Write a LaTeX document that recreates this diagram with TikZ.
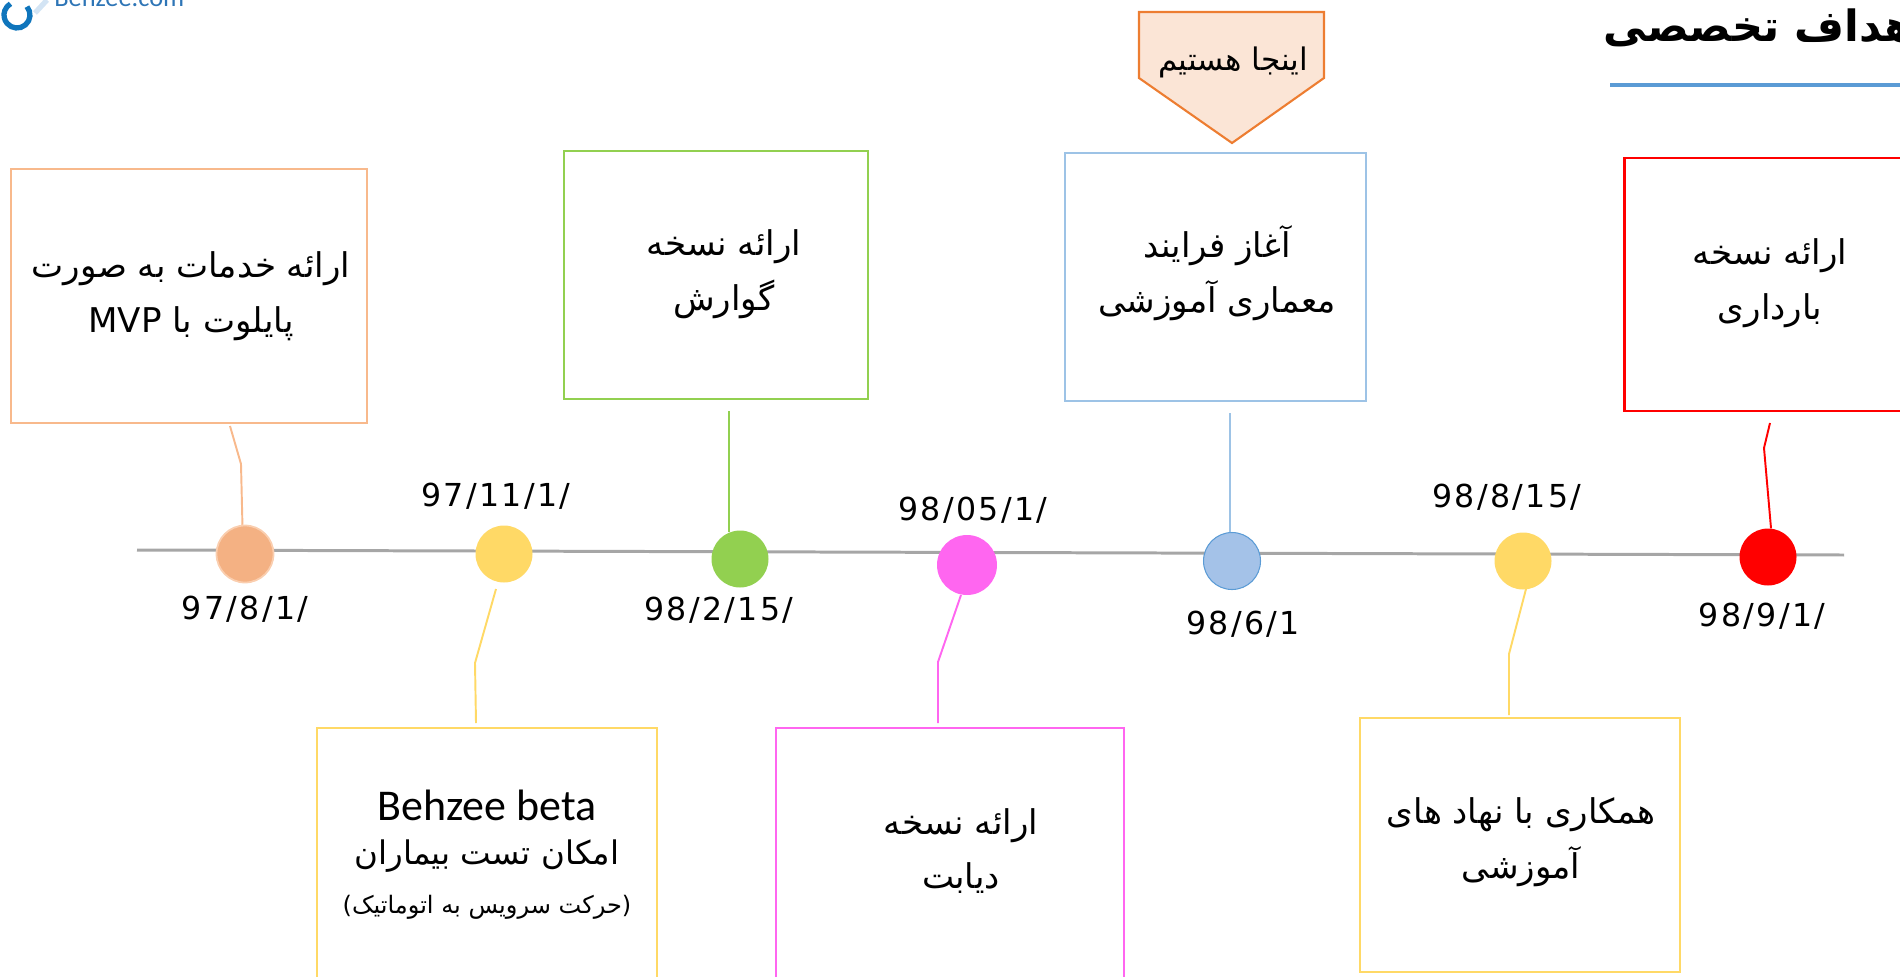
\documentclass[tikz,border=0pt]{standalone}
\usepackage{fontspec}
\usepackage{xcolor}
\setmainfont{DejaVu Sans}
\newfontfamily\arabicfont[Script=Arabic]{DejaVu Sans}
\newfontfamily\datefont[LetterSpace=7.5]{DejaVu Sans}
\newfontfamily\latinfont{Carlito}
\TeXXeTstate=1
\definecolor{peachline}{RGB}{248,185,140}
\definecolor{peachdot}{RGB}{244,177,131}
\definecolor{greenline}{RGB}{146,208,80}
\definecolor{blueline}{RGB}{157,195,230}
\definecolor{bluedot}{RGB}{164,194,232}
\definecolor{goldline}{RGB}{255,217,102}
\definecolor{pinkline}{RGB}{255,102,240}
\definecolor{calloutline}{RGB}{237,125,49}
\definecolor{calloutfill}{RGB}{251,229,214}
\definecolor{titleline}{RGB}{91,155,213}
\definecolor{logoblue}{RGB}{15,117,188}
\definecolor{logotext}{RGB}{46,117,182}

\begin{document}
\begin{tikzpicture}[x=0.02cm, y=-0.02cm]
    \tikzstyle{msgbox} = [rectangle, line width=1.6pt, fill=white, minimum width=5cm, minimum height=5.08cm, inner sep=0pt]
    \tikzstyle{msgtext} = [align=center, inner sep=0pt, font=\arabicfont\fontsize{19.4}{31}\selectfont]
    \tikzstyle{dot} = [circle, minimum size=1.14cm, inner sep=0pt]
    \tikzstyle{datelabel} = [inner sep=0pt, font=\datefont\fontsize{18}{20}\selectfont]
    \tikzstyle{conn} = [line width=1.1pt]

    \useasboundingbox (0,0) rectangle (1900,977);
    \clip (0,0) rectangle (1900,977);

    % Logo
    \node [inner sep=0pt, anchor=base west, text=logotext, font=\latinfont\fontsize{15}{18}\selectfont] (logo_text) at (54,7) {Behzee.com};
    \draw [line width=3pt, color=logoblue] (17,15) ++(40:0.26cm) arc (40:-240:0.26cm);
    \draw [line width=3pt, color=blueline!45] (35,13) -- (47,0);

    % Title
    \node [inner sep=0pt, anchor=base east, font=\arabicfont\bfseries\fontsize{24.5}{30}\selectfont] (title) at (1929,41) {\beginR اهداف تخصصی\endR};
    \coordinate (title_left) at (1610,85);
    \coordinate (title_right) at (1900,85);
    \draw [line width=2.3pt, color=titleline] (title_left) -- (title_right);

    % Time line
    \coordinate (line_start) at (137,550);
    \coordinate (line_end) at (1844,555);
    \draw [line width=1.7pt, color=black!35] (line_start) -- (line_end);

    % Top boxes
    \node [msgbox, draw=peachline, minimum width=7.12cm] (box_pilot) at (189,296) {};
    \node [msgbox, draw=greenline, minimum width=6.08cm, minimum height=4.96cm] (box_report) at (716,275) {};
    \node [msgbox, draw=blueline, minimum width=6.02cm, minimum height=4.96cm] (box_edu) at (1215.5,277) {};
    \node [msgbox, draw=red, minimum width=5.82cm, minimum height=5.06cm] (box_preg) at (1770,284.5) {};

    % Bottom boxes
    \node [msgbox, draw=goldline, minimum width=6.8cm] (box_beta) at (487,855) {};
    \node [msgbox, draw=pinkline, minimum width=6.96cm] (box_diabetes) at (950,855) {};
    \node [msgbox, draw=goldline, minimum width=6.4cm] (box_inst) at (1520,845) {};

    % Box texts
    \node [msgtext] (text_pilot) at (191,296) {\beginR ارائه خدمات به صورت\endR\\\beginR پایلوت با \beginL MVP\endL\endR};
    \node [msgtext] (text_report) at (724,274) {\beginR ارائه نسخه\endR\\\beginR گوارش\endR};
    \node [msgtext] (text_edu) at (1217,273) {\beginR آغاز فرایند\endR\\\beginR معماری آموزشی\endR};
    \node [msgtext] (text_preg) at (1770,283) {\beginR ارائه نسخه\endR\\\beginR بارداری\endR};
    \node [msgtext] (text_beta) at (487,855) {{\latinfont\fontsize{25}{28}\selectfont Behzee beta}\\[-6pt]{\fontsize{18.5}{28}\selectfont\beginR امکان تست بیماران\endR}\\[-3pt]{\fontsize{13.7}{18}\selectfont\beginR (حرکت سرویس به اتوماتیک)\endR}};
    \node [msgtext] (text_diabetes) at (961,851) {\beginR ارائه نسخه\endR\\\beginR دیابت\endR};
    \node [msgtext] (text_inst) at (1521,842) {\beginR همکاری با نهاد های\endR\\\beginR آموزشی\endR};

    % Callout
    \draw [line width=1.2pt, draw=calloutline, fill=calloutfill] (1139,12) -- (1324,12) -- (1324,78) -- (1232,143) -- (1139,78) -- cycle;
    \node [inner sep=0pt, font=\arabicfont\fontsize{17.7}{20}\selectfont] (text_here) at (1233,62) {\beginR اینجا هستیم\endR};

    % Dots on the line
    \node [dot, fill=peachdot, draw=peachline!70, line width=1pt] (dot_pilot) at (245,554) {};
    \node [dot, fill=goldline] (dot_beta) at (504,554) {};
    \node [dot, fill=greenline] (dot_report) at (740,559) {};
    \node [dot, fill=pinkline, minimum size=1.2cm] (dot_diabetes) at (967,565) {};
    \node [dot, fill=bluedot, draw=titleline, line width=0.6pt] (dot_edu) at (1232,561) {};
    \node [dot, fill=goldline] (dot_inst) at (1523,561) {};
    \node [dot, fill=red] (dot_preg) at (1768,557) {};

    % Dates
    \node [datelabel] (date_pilot) at (245,609) {97/8/1/};
    \node [datelabel] (date_beta) at (496,496) {97/11/1/};
    \node [datelabel] (date_report) at (719,610) {98/2/15/};
    \node [datelabel] (date_diabetes) at (973,510) {98/05/1/};
    \node [datelabel] (date_edu) at (1243,624) {98/6/1};
    \node [datelabel] (date_inst) at (1507,497) {98/8/15/};
    \node [datelabel] (date_preg) at (1762,616) {98/9/1/};

    % Connector ends
    \coordinate (tip_pilot) at (230,426);
    \coordinate (bend_pilot) at (241,464);
    \coordinate (tip_beta) at (476,723);
    \coordinate (bend_beta) at (475,663);
    \coordinate (tip_report) at (729,411);
    \coordinate (tip_edu) at (1230,413);
    \coordinate (tip_preg) at (1770,423);
    \coordinate (bend_preg) at (1764,448);
    \coordinate (tip_diabetes) at (938,723);
    \coordinate (bend_diabetes) at (938,662);
    \coordinate (tip_inst) at (1509,715);
    \coordinate (bend_inst) at (1509,654);
    \coordinate (gap_beta) at (496,589);
    \coordinate (gap_diabetes) at (961,595);
    \coordinate (gap_inst) at (1526,589);

    % Connectors
    \draw [conn, color=peachline] (tip_pilot) -- (bend_pilot) -- (dot_pilot.95);
    \draw [conn, color=goldline] (tip_beta) -- (bend_beta) -- (gap_beta);
    \draw [conn, color=greenline] (tip_report) -- (tip_report |- dot_report.112);
    \draw [conn, color=blueline] (tip_edu) -- (dot_edu.94);
    \draw [conn, color=red] (tip_preg) -- (bend_preg) -- (dot_preg.84);
    \draw [conn, color=pinkline] (tip_diabetes) -- (bend_diabetes) -- (gap_diabetes);
    \draw [conn, color=goldline] (tip_inst) -- (bend_inst) -- (gap_inst);
\end{tikzpicture}
\end{document}
